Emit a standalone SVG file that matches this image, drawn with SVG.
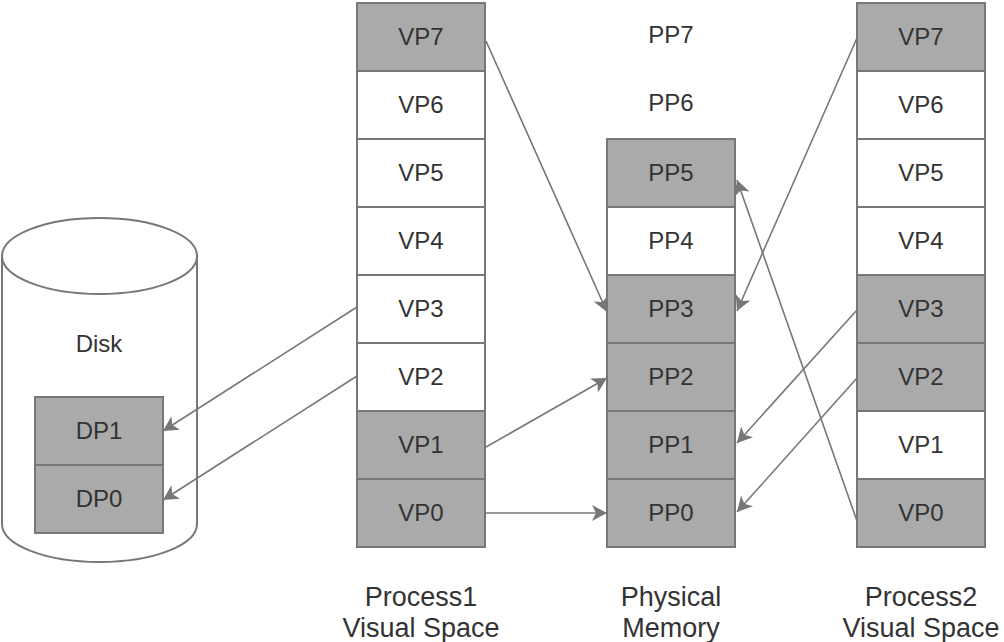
<svg xmlns="http://www.w3.org/2000/svg" width="1004" height="642" viewBox="0 0 1004 642">
<defs>
<style>
.c{stroke:#777;stroke-width:2}
.g{fill:#aaa}
.w{fill:#fff}
.t{font-family:"Liberation Sans",Arial,sans-serif;font-size:24px;fill:#333;text-anchor:middle}
.l{font-family:"Liberation Sans",Arial,sans-serif;font-size:27px;fill:#333;text-anchor:middle}
.e{stroke:#777;stroke-width:1.6;fill:none;marker-end:url(#ah)}
</style>
<marker id="ah" markerUnits="userSpaceOnUse" markerWidth="18" markerHeight="18" refX="15" refY="8" orient="auto" viewBox="0 0 18 18">
<path d="M0,0 L15,8 L0,16 L4,8 Z" fill="#777"/>
</marker>
</defs>
<rect width="1004" height="642" fill="#fff"/>

<g id="disk">
<path d="M2,256 L2,524 A97.5,38 0 0 0 197,524 L197,256" fill="#fff" stroke="#777" stroke-width="2"/>
<ellipse cx="99.5" cy="256" rx="97.5" ry="38" fill="#fff" stroke="#777" stroke-width="2"/>
<text class="t" x="99" y="352">Disk</text>
</g>
<g id="dp1"><rect class="c g" x="35" y="397" width="128" height="68"/><text class="t" x="99" y="439">DP1</text></g>
<g id="dp0"><rect class="c g" x="35" y="465" width="128" height="68"/><text class="t" x="99" y="507">DP0</text></g>

<g id="p1vp7"><rect class="c g" x="357" y="3" width="128" height="68"/><text class="t" x="421" y="45">VP7</text></g>
<g id="p1vp6"><rect class="c w" x="357" y="71" width="128" height="68"/><text class="t" x="421" y="113">VP6</text></g>
<g id="p1vp5"><rect class="c w" x="357" y="139" width="128" height="68"/><text class="t" x="421" y="181">VP5</text></g>
<g id="p1vp4"><rect class="c w" x="357" y="207" width="128" height="68"/><text class="t" x="421" y="249">VP4</text></g>
<g id="p1vp3"><rect class="c w" x="357" y="275" width="128" height="68"/><text class="t" x="421" y="317">VP3</text></g>
<g id="p1vp2"><rect class="c w" x="357" y="343" width="128" height="68"/><text class="t" x="421" y="385">VP2</text></g>
<g id="p1vp1"><rect class="c g" x="357" y="411" width="128" height="68"/><text class="t" x="421" y="453">VP1</text></g>
<g id="p1vp0"><rect class="c g" x="357" y="479" width="128" height="68"/><text class="t" x="421" y="521">VP0</text></g>

<g id="pp7"><text class="t" x="671" y="43">PP7</text></g>
<g id="pp6"><text class="t" x="671" y="111">PP6</text></g>
<g id="pp5"><rect class="c g" x="607" y="139" width="128" height="68"/><text class="t" x="671" y="181">PP5</text></g>
<g id="pp4"><rect class="c w" x="607" y="207" width="128" height="68"/><text class="t" x="671" y="249">PP4</text></g>
<g id="pp3"><rect class="c g" x="607" y="275" width="128" height="68"/><text class="t" x="671" y="317">PP3</text></g>
<g id="pp2"><rect class="c g" x="607" y="343" width="128" height="68"/><text class="t" x="671" y="385">PP2</text></g>
<g id="pp1"><rect class="c g" x="607" y="411" width="128" height="68"/><text class="t" x="671" y="453">PP1</text></g>
<g id="pp0"><rect class="c g" x="607" y="479" width="128" height="68"/><text class="t" x="671" y="521">PP0</text></g>

<g id="p2vp7"><rect class="c g" x="857" y="3" width="128" height="68"/><text class="t" x="921" y="45">VP7</text></g>
<g id="p2vp6"><rect class="c w" x="857" y="71" width="128" height="68"/><text class="t" x="921" y="113">VP6</text></g>
<g id="p2vp5"><rect class="c w" x="857" y="139" width="128" height="68"/><text class="t" x="921" y="181">VP5</text></g>
<g id="p2vp4"><rect class="c w" x="857" y="207" width="128" height="68"/><text class="t" x="921" y="249">VP4</text></g>
<g id="p2vp3"><rect class="c g" x="857" y="275" width="128" height="68"/><text class="t" x="921" y="317">VP3</text></g>
<g id="p2vp2"><rect class="c g" x="857" y="343" width="128" height="68"/><text class="t" x="921" y="385">VP2</text></g>
<g id="p2vp1"><rect class="c w" x="857" y="411" width="128" height="68"/><text class="t" x="921" y="453">VP1</text></g>
<g id="p2vp0"><rect class="c g" x="857" y="479" width="128" height="68"/><text class="t" x="921" y="521">VP0</text></g>

<g id="labels">
<text class="l" x="421" y="606">Process1</text>
<text class="l" x="421" y="637">Visual Space</text>
<text class="l" x="671" y="606">Physical</text>
<text class="l" x="671" y="637">Memory</text>
<text class="l" x="921" y="606">Process2</text>
<text class="l" x="921" y="637">Visual Space</text>
</g>

<g id="connectors">
<line class="e" x1="486" y1="41" x2="607" y2="312"/>
<line class="e" x1="486" y1="447" x2="607" y2="378"/>
<line class="e" x1="486" y1="513" x2="607" y2="513"/>
<line class="e" x1="357" y1="307" x2="163" y2="431"/>
<line class="e" x1="357" y1="376" x2="163" y2="500"/>
<line class="e" x1="857" y1="38" x2="737" y2="311"/>
<line class="e" x1="857" y1="521" x2="737" y2="180"/>
<line class="e" x1="857" y1="310" x2="737" y2="443"/>
<line class="e" x1="857" y1="378" x2="737" y2="512"/>
</g>
</svg>
